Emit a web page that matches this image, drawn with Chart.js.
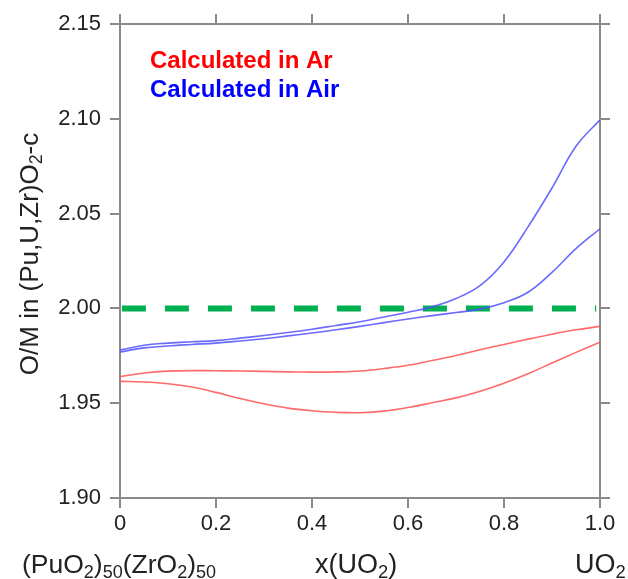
<!DOCTYPE html>
<html>
<head>
<meta charset="utf-8">
<script src="https://cdn.jsdelivr.net/npm/chart.js@4"></script>
<style>
  html, body { margin: 0; padding: 0; background: #fff; }
  #wrap { width: 628px; height: 579px; position: relative; }
</style>
</head>
<body>
<div id="wrap"><canvas id="chart"></canvas></div>
<script>
// x(UO2) sample positions
const xValues = [0, 0.05, 0.1, 0.15, 0.2, 0.25, 0.3, 0.35, 0.4, 0.45, 0.5,
                 0.55, 0.6, 0.65, 0.7, 0.75, 0.8, 0.85, 0.9, 0.95, 1.0];

// calculated in air (blue), upper and lower curve
const airUpper = [1.978, 1.9806, 1.9817, 1.9824, 1.983, 1.9843, 1.9857, 1.9873, 1.989, 1.991, 1.993,
                  1.9955, 1.998, 2.0008, 2.0052, 2.012, 2.0245, 2.043, 2.0635, 2.0855, 2.0995];
const airLower = [1.977, 1.9792, 1.9802, 1.981, 1.9817, 1.9828, 1.984, 1.9855, 1.987, 1.9887, 1.9905,
                  1.9925, 1.9944, 1.9962, 1.9978, 1.9996, 2.003, 2.0085, 2.019, 2.0315, 2.042];

// calculated in Ar (red), upper and lower curve
const arUpper = [1.964, 1.9659, 1.9669, 1.9672, 1.9671, 1.967, 1.9668, 1.9665, 1.9664, 1.9665, 1.967,
                 1.9683, 1.970, 1.9725, 1.9752, 1.9782, 1.981, 1.9838, 1.9864, 1.9887, 1.9905];
const arLower = [1.9615, 1.9612, 1.9603, 1.9585, 1.9557, 1.9525, 1.9497, 1.9474, 1.946, 1.9452, 1.945,
                 1.9458, 1.9477, 1.9502, 1.9528, 1.9563, 1.9605, 1.9655, 1.9712, 1.9768, 1.9822];

// stoichiometric reference O/M = 2.00
const refX = [0.004, 0.992];
const refY = [2.0, 2.0];

const xTickLabels = ['0', '0.2', '0.4', '0.6', '0.8', '1.0'];
const yTickLabels = ['1.90', '1.95', '2.00', '2.05', '2.10', '2.15'];

const axisGray = '#8a8a8a';
const textColor = '#222';
const FONT = '"Liberation Sans", Arial, sans-serif';

const toPoints = (xs, ys) => xs.map((x, i) => ({ x, y: ys[i] }));

const curve = (data, color) => ({
  data,
  borderColor: color,
  borderWidth: 1.6,
  pointRadius: 0,
  fill: false,
  tension: 0.4
});

// draws text with subscript segments, returns width
function richText(ctx, parts, x, y, size) {
  let cx = x;
  parts.forEach(p => {
    const s = p.sub ? size * 0.68 : size;
    ctx.font = s + 'px ' + FONT;
    ctx.fillText(p.t, cx, p.sub ? y + size * 0.17 : y);
    cx += ctx.measureText(p.t).width;
  });
  return cx - x;
}
function richWidth(ctx, parts, size) {
  let w = 0;
  parts.forEach(p => {
    ctx.font = (p.sub ? size * 0.68 : size) + 'px ' + FONT;
    w += ctx.measureText(p.t).width;
  });
  return w;
}

const labelsPlugin = {
  id: 'labels',
  afterDraw(chart) {
    const ctx = chart.ctx;
    ctx.save();
    ctx.textBaseline = 'alphabetic';
    ctx.textAlign = 'left';

    // legend text
    ctx.font = 'bold 24px ' + FONT;
    ctx.fillStyle = '#ff0000';
    ctx.fillText('Calculated in Ar', 150, 68);
    ctx.fillStyle = '#0000ff';
    ctx.fillText('Calculated in Air', 150, 97);

    // bottom composition labels
    ctx.fillStyle = textColor;
    richText(ctx, [{ t: '(PuO' }, { t: '2', sub: true }, { t: ')' }, { t: '50', sub: true },
                   { t: '(ZrO' }, { t: '2', sub: true }, { t: ')' }, { t: '50', sub: true }], 22, 573, 26.5);
    richText(ctx, [{ t: 'x(UO' }, { t: '2', sub: true }, { t: ')' }], 315, 573, 27);
    richText(ctx, [{ t: 'UO' }, { t: '2', sub: true }], 575, 573, 27);

    // y axis title
    const yTitle = [{ t: 'O/M in (Pu,U,Zr)O' }, { t: '2', sub: true }, { t: '-c' }];
    const w = richWidth(ctx, yTitle, 26);
    ctx.translate(38, 254);
    ctx.rotate(-Math.PI / 2);
    richText(ctx, yTitle, -w / 2, 0, 26);
    ctx.restore();
  }
};

const tickGrid = {
  drawOnChartArea: false,
  drawTicks: true,
  tickLength: 10,
  color: axisGray,
  lineWidth: 2
};
const axisBorder = { display: true, color: axisGray, width: 2 };

new Chart(document.getElementById('chart'), {
  type: 'line',
  data: {
    datasets: [
      curve(toPoints(xValues, airUpper), 'rgba(80,80,255,0.85)'),
      curve(toPoints(xValues, airLower), 'rgba(80,80,255,0.85)'),
      curve(toPoints(xValues, arUpper), 'rgba(255,80,80,0.85)'),
      curve(toPoints(xValues, arLower), 'rgba(255,80,80,0.85)'),
      {
        data: toPoints(refX, refY),
        borderColor: '#00b050',
        borderWidth: 6,
        borderDash: [24, 19],
        borderCapStyle: 'butt',
        pointRadius: 0,
        fill: false
      }
    ]
  },
  options: {
    responsive: true,
    maintainAspectRatio: false,
    animation: false,
    layout: { padding: 0 },
    plugins: {
      legend: { display: false },
      tooltip: { enabled: false }
    },
    scales: {
      x: {
        type: 'linear',
        position: 'bottom',
        min: 0,
        max: 1,
        grid: tickGrid,
        border: axisBorder,
        afterBuildTicks: s => { s.ticks = xTickLabels.map(v => ({ value: parseFloat(v) })); },
        ticks: {
          color: textColor,
          font: { family: FONT, size: 22 },
          padding: 3,
          maxRotation: 0,
          callback: (v, i) => xTickLabels[i]
        },
        afterFit: s => { s.height = 81; }
      },
      x2: {
        type: 'linear',
        position: 'top',
        min: 0,
        max: 1,
        grid: tickGrid,
        border: axisBorder,
        afterBuildTicks: s => { s.ticks = xTickLabels.map(v => ({ value: parseFloat(v) })); },
        ticks: { display: false },
        afterFit: s => { s.height = 24; }
      },
      y: {
        type: 'linear',
        position: 'left',
        min: 1.9,
        max: 2.15,
        grid: tickGrid,
        border: axisBorder,
        afterBuildTicks: s => { s.ticks = yTickLabels.map(v => ({ value: parseFloat(v) })); },
        ticks: {
          color: textColor,
          font: { family: FONT, size: 22 },
          padding: 9,
          callback: (v, i) => yTickLabels[i]
        },
        afterFit: s => { s.width = 120; }
      },
      y2: {
        type: 'linear',
        position: 'right',
        min: 1.9,
        max: 2.15,
        grid: tickGrid,
        border: axisBorder,
        afterBuildTicks: s => { s.ticks = yTickLabels.map(v => ({ value: parseFloat(v) })); },
        ticks: { display: false },
        afterFit: s => { s.width = 28; }
      }
    }
  },
  plugins: [labelsPlugin]
});
</script>
</body>
</html>
